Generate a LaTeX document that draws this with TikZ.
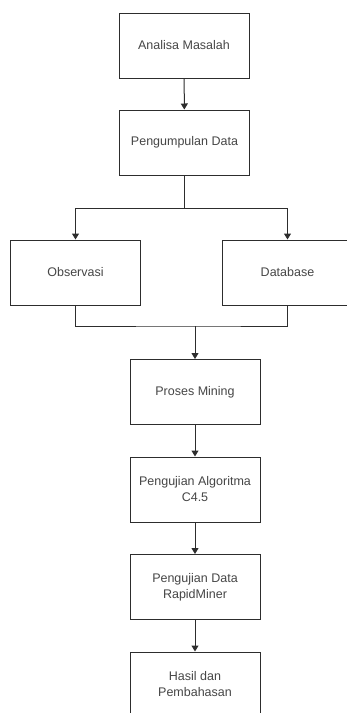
\documentclass[tikz,border=0pt]{standalone}
\usepackage{fontspec}
\setmainfont{Liberation Sans}
\usetikzlibrary{arrows.meta}
\definecolor{linec}{RGB}{45,45,45}
\definecolor{textc}{RGB}{70,70,70}
\begin{document}
\begin{tikzpicture}[x=1pt,y=-1pt,
  box/.style={draw=linec, line width=1pt, rectangle, minimum width=130pt, minimum height=65pt,
    inner sep=2pt, align=center, text=textc, font=\fontsize{12.5}{16}\selectfont},
  conn/.style={draw=linec, line width=1pt},
  arr/.style={conn, -{Triangle[length=6pt,width=7pt]}}]
\useasboundingbox (0,0) rectangle (346,713);
\fill[white] (0,0) rectangle (346,713);
\node[box] (A) at (184,45.5) {Analisa Masalah};
\node[box] (B) at (184.5,142.5) {Pengumpulan Data};
\node[box] (Obs) at (75.5,272.5) {Observasi};
\node[box] (Db) at (287.5,272.5) {Database};
\node[box] (PM) at (195,392) {Proses Mining};
\node[box] (PA) at (195,489.5) {Pengujian Algoritma\\C4.5};
\node[box] (PD) at (195,587) {Pengujian Data\\RapidMiner};
\node[box] (H) at (195,684.5) {Hasil dan\\Pembahasan};
\coordinate (split) at (184.5,208);
\coordinate (merge) at (195,326);
\draw[arr] (A) -- (B);
\draw[conn] (B) -- (split);
\draw[arr] (split) -| (Obs.north);
\draw[arr] (split) -| (Db.north);
\draw[conn] (Obs.south) |- (merge) -| (Db.south);
\draw[arr] (merge) -- (PM.north);
\draw[arr] (PM) -- (PA);
\draw[arr] (PA) -- (PD);
\draw[arr] (PD) -- (H);
\end{tikzpicture}
\end{document}
